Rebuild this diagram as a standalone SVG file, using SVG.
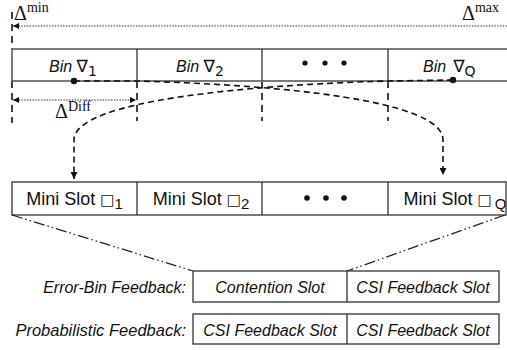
<svg xmlns="http://www.w3.org/2000/svg" width="507" height="350" viewBox="0 0 507 350">
  <style>
    .math { font-family: "Liberation Serif", "DejaVu Serif", serif; fill: #111; }
    .lbl { font-family: "Liberation Sans", "DejaVu Sans", sans-serif; fill: #111; }
    .it { font-style: italic; }
    .sym { font-family: "DejaVu Sans", "Liberation Sans", sans-serif; font-style: normal; }
    .box { fill: #fff; stroke: #333; stroke-width: 1.3; }
    .sep { stroke: #222; stroke-width: 1.2; }
    .rail { stroke: #7a7a7a; stroke-width: 2; }
    .dotted { fill: none; stroke: #222; stroke-width: 1.2; stroke-dasharray: 1.4 1.4; }
    .dashed { fill: none; stroke: #111; stroke-width: 1.6; stroke-dasharray: 6 4; }
    .guide { fill: none; stroke: #111; stroke-width: 1.6; stroke-dasharray: 7 5; }
    .dashdot { fill: none; stroke: #222; stroke-width: 1.3; stroke-dasharray: 11 3 1.5 3 1.5 3; }
  </style>
  <defs>
    <marker id="tip" viewBox="0 0 10 10" refX="10" refY="5" markerWidth="7" markerHeight="7" markerUnits="userSpaceOnUse" orient="auto-start-reverse">
      <path d="M0,0 L10,5 L0,10 Z" fill="#111"/>
    </marker>
    <marker id="tipS" viewBox="0 0 10 10" refX="10" refY="5" markerWidth="6" markerHeight="6" markerUnits="userSpaceOnUse" orient="auto-start-reverse">
      <path d="M0,0 L10,5 L0,10 Z" fill="#111"/>
    </marker>
  </defs>

  <!-- delay range: minimum to maximum -->
  <g id="delay-range">
    <path class="dotted" d="M507,26 L13,26" marker-end="url(#tipS)"/>
    <text class="math" x="14" y="20" font-size="20">Δ<tspan dy="-8" font-size="14">min</tspan></text>
    <text class="math" x="462" y="20" font-size="20">Δ<tspan dy="-8" font-size="14">max</tspan></text>
  </g>

  <!-- bin boundaries projected below the bin row -->
  <g id="bin-guides">
    <path class="guide" d="M12,12 L12,49"/>
    <path class="guide" d="M12,81 L12,123"/>
    <path class="guide" d="M137,81 L137,121"/>
    <path class="guide" d="M262,81 L262,121"/>
    <path class="guide" d="M388,81 L388,121"/>
  </g>

  <!-- bin row -->
  <g id="bins">
    <line class="rail" x1="12" y1="49" x2="507" y2="49"/>
    <line class="rail" x1="12" y1="81" x2="507" y2="81"/>
    <line class="sep" x1="12" y1="49" x2="12" y2="81" stroke-width="1.6"/>
    <line class="sep" x1="137" y1="49" x2="137" y2="81"/>
    <line class="sep" x1="262" y1="49" x2="262" y2="81"/>
    <line class="sep" x1="388" y1="49" x2="388" y2="81"/>
    <g id="bin-1">
      <text class="lbl it" x="49" y="72" font-size="16">Bin <tspan class="sym" font-size="17">∇</tspan><tspan class="sym" dy="4" font-size="14">1</tspan></text>
    </g>
    <g id="bin-2">
      <text class="lbl it" x="176" y="72" font-size="16">Bin <tspan class="sym" font-size="17">∇</tspan><tspan class="sym" dy="4" font-size="14">2</tspan></text>
    </g>
    <g id="bin-dots">
      <circle cx="305" cy="63" r="2.6" fill="#111"/>
      <circle cx="325" cy="63" r="2.6" fill="#111"/>
      <circle cx="344" cy="63" r="2.6" fill="#111"/>
    </g>
    <g id="bin-q">
      <text class="lbl it" x="423" y="72" font-size="16">Bin<tspan class="sym" dx="7" font-size="17">∇</tspan><tspan class="sym" dy="4" font-size="14">Q</tspan></text>
    </g>
  </g>

  <!-- bin width -->
  <g id="delay-diff">
    <path class="dotted" d="M13,100 L136,100" marker-start="url(#tipS)" marker-end="url(#tipS)"/>
    <text class="math" x="55" y="118" font-size="20">Δ<tspan dy="-7" font-size="14">Diff</tspan></text>
  </g>

  <!-- bin-to-mini-slot mapping -->
  <g id="connectors">
    <path class="dashed" d="M74,81 L137,81 C280,85 443,100 443,140 L443,175" marker-end="url(#tip)"/>
    <path class="dashed" d="M453,80 L388,81 C250,85 74,100 74,140 L74,179" marker-end="url(#tip)"/>
    <circle cx="74" cy="81" r="3.2" fill="#111"/>
    <circle cx="453" cy="80" r="3.2" fill="#111"/>
  </g>

  <!-- mini slot row -->
  <g id="mini-slots">
    <rect class="box" x="12" y="182" width="494" height="33"/>
    <line class="sep" x1="137" y1="182" x2="137" y2="215"/>
    <line class="sep" x1="262" y1="182" x2="262" y2="215"/>
    <line class="sep" x1="388" y1="182" x2="388" y2="215"/>
    <g id="mini-slot-1">
      <text class="lbl" x="74.5" y="205" font-size="18" text-anchor="middle">Mini Slot <tspan class="sym" font-size="15">□</tspan><tspan dy="4" font-size="15">1</tspan></text>
    </g>
    <g id="mini-slot-2">
      <text class="lbl" x="201" y="205" font-size="18" text-anchor="middle">Mini Slot <tspan class="sym" font-size="15">□</tspan><tspan dy="4" font-size="15">2</tspan></text>
    </g>
    <g id="mini-slot-dots">
      <circle cx="307" cy="198" r="2.8" fill="#111"/>
      <circle cx="326" cy="198" r="2.8" fill="#111"/>
      <circle cx="344" cy="198" r="2.8" fill="#111"/>
    </g>
    <g id="mini-slot-q">
      <text class="lbl" x="455" y="205" font-size="18" text-anchor="middle">Mini Slot <tspan class="sym" font-size="15">□</tspan><tspan dx="3" dy="4" font-size="15">Q</tspan></text>
    </g>
  </g>

  <!-- zoom of one mini slot -->
  <g id="zoom-lines">
    <path class="dashdot" d="M12,215 L193,271"/>
    <path class="dashdot" d="M505,215 L347,271"/>
  </g>

  <!-- feedback schemes -->
  <g id="error-bin-feedback">
    <text class="lbl it" x="186" y="293" font-size="16" text-anchor="end">Error-Bin Feedback:</text>
    <rect class="box" x="193" y="271" width="306" height="31"/>
    <line class="sep" x1="347" y1="271" x2="347" y2="302"/>
    <text class="lbl it" x="270" y="293" font-size="16" text-anchor="middle">Contention Slot</text>
    <text class="lbl it" x="423" y="293" font-size="16" text-anchor="middle">CSI Feedback Slot</text>
  </g>
  <g id="probabilistic-feedback">
    <text class="lbl it" x="186" y="336" font-size="16.5" text-anchor="end">Probabilistic Feedback:</text>
    <rect class="box" x="193" y="314" width="306" height="30"/>
    <line class="sep" x1="347" y1="314" x2="347" y2="344"/>
    <text class="lbl it" x="270" y="336" font-size="16" text-anchor="middle">CSI Feedback Slot</text>
    <text class="lbl it" x="423" y="336" font-size="16" text-anchor="middle">CSI Feedback Slot</text>
  </g>
</svg>
